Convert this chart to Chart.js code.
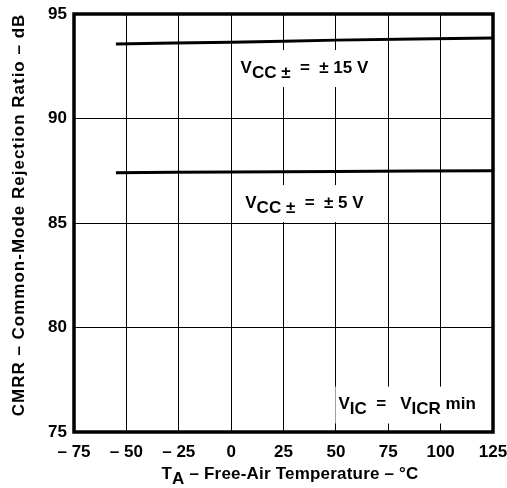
<!DOCTYPE html>
<html>
<head>
<meta charset="utf-8">
<script src="https://cdn.jsdelivr.net/npm/chart.js@4"></script>
<style>
  html, body { margin: 0; padding: 0; background: #fff; }
  #wrap { width: 507px; height: 488px; }
</style>
</head>
<body>
<div id="wrap"><canvas id="cmrr-chart" width="507" height="488"></canvas></div>
<script>
// temperatures (deg C)
var temps = [-55, 0, 50, 125];
var cmrr15 = [93.57, 93.65, 93.75, 93.85];
var cmrr5 = [87.41, 87.44, 87.47, 87.5];
var xTicks = [-75, -50, -25, 0, 25, 50, 75, 100, 125];
var yTicks = [75, 80, 85, 90, 95];

var FONT = "'Liberation Sans', Arial, Helvetica, sans-serif";

function pts(ys) {
    return temps.map(function (t, i) { return { x: t, y: ys[i] }; });
}

// text runs: [text, isSub]
function drawRuns(ctx, x, y, runs, size) {
    for (let r of runs) {
        ctx.font = "bold " + size + "px " + FONT;
        ctx.fillText(r[0], x, r[1] ? y + 5 : y);
        x += ctx.measureText(r[0]).width;
    }
}
function runsWidth(ctx, runs, size) {
    let w = 0;
    for (let r of runs) {
        ctx.font = "bold " + size + "px " + FONT;
        w += ctx.measureText(r[0]).width;
    }
    return w;
}

var notes = [
    { t: 35, v: 92.39, runs: [["V", 0], ["CC \u00b1", 1], ["  =  \u00b1 15 V", 0]] },
    { t: 35, v: 85.93, runs: [["V", 0], ["CC \u00b1", 1], ["  =  \u00b1 5 V", 0]] },
    { t: 84, v: 76.29, runs: [["V", 0], ["IC", 1], ["  =   V", 0], ["ICR", 1], [" min", 0]] }
];

var decor = {
    id: "decor",
    afterDatasetsDraw(chart) {
        const ctx = chart.ctx;
        const xs = chart.scales.x, ys = chart.scales.y;
        const area = chart.chartArea;
        ctx.save();
        ctx.textBaseline = "alphabetic";
        for (let n of notes) {
            const w = runsWidth(ctx, n.runs, 17);
            const cx = xs.getPixelForValue(n.t);
            const cy = ys.getPixelForValue(n.v);
            ctx.fillStyle = "#fff";
            ctx.fillRect(cx - w / 2 - 3, cy - 18.5, w + 6, 37);
            ctx.fillStyle = "#000";
            drawRuns(ctx, cx - w / 2, cy + 4, n.runs, 17);
        }
        // frame
        ctx.strokeStyle = "#000";
        ctx.lineWidth = 3.5;
        ctx.strokeRect(area.left, area.top, area.right - area.left, area.bottom - area.top);

        // x title with subscript
        ctx.letterSpacing = "0.2px";
        const xr = [["T", 0], ["A", 1], [" \u2013 Free-Air Temperature \u2013 \u00b0C", 0]];
        const xw = runsWidth(ctx, xr, 17);
        drawRuns(ctx, 290 - xw / 2, 479, xr, 17);

        // y title
        ctx.letterSpacing = "1px";
        ctx.translate(24, 215);
        ctx.rotate(-Math.PI / 2);
        ctx.textAlign = "center";
        ctx.font = "bold 17px " + FONT;
        ctx.fillText("CMRR \u2013 Common-Mode Rejection Ratio \u2013 dB", 0, 0);
        ctx.restore();
    }
};

const canvas = document.getElementById("cmrr-chart");
new Chart(canvas, {
    type: "line",
    data: {
        datasets: [
            { label: "VCC\u00b1 = \u00b115 V", data: pts(cmrr15), borderColor: "#000", borderWidth: 3, pointRadius: 0, tension: 0.3 },
            { label: "VCC\u00b1 = \u00b15 V", data: pts(cmrr5), borderColor: "#000", borderWidth: 3, pointRadius: 0, tension: 0.3 }
        ]
    },
    options: {
        responsive: false,
        animation: false,
        layout: { padding: { top: 14, right: 14, left: 0, bottom: 0 } },
        plugins: { legend: { display: false }, tooltip: { enabled: false } },
        scales: {
            x: {
                type: "linear", min: -75, max: 125,
                afterBuildTicks: function (s) { s.ticks = xTicks.map(function (v) { return { value: v }; }); },
                afterFit: function (s) { s.height = 56; s.paddingLeft = 0; s.paddingRight = 0; },
                grid: { color: "#000", lineWidth: 1, drawTicks: false },
                border: { display: false },
                ticks: {
                    color: "#000", padding: 10,
                    font: { family: FONT, size: 17, weight: "bold" },
                    callback: function (v) { return v < 0 ? "\u2013 " + Math.abs(v) : String(v); }
                }
            },
            y: {
                min: 75, max: 95,
                afterBuildTicks: function (s) { s.ticks = yTicks.map(function (v) { return { value: v }; }); },
                afterFit: function (s) { s.width = 74; s.paddingTop = 0; s.paddingBottom = 0; },
                grid: { color: "#000", lineWidth: 1, drawTicks: false },
                border: { display: false },
                ticks: {
                    color: "#000", padding: 7,
                    font: { family: FONT, size: 17, weight: "bold" }
                }
            }
        }
    },
    plugins: [decor]
});
</script>
</body>
</html>
